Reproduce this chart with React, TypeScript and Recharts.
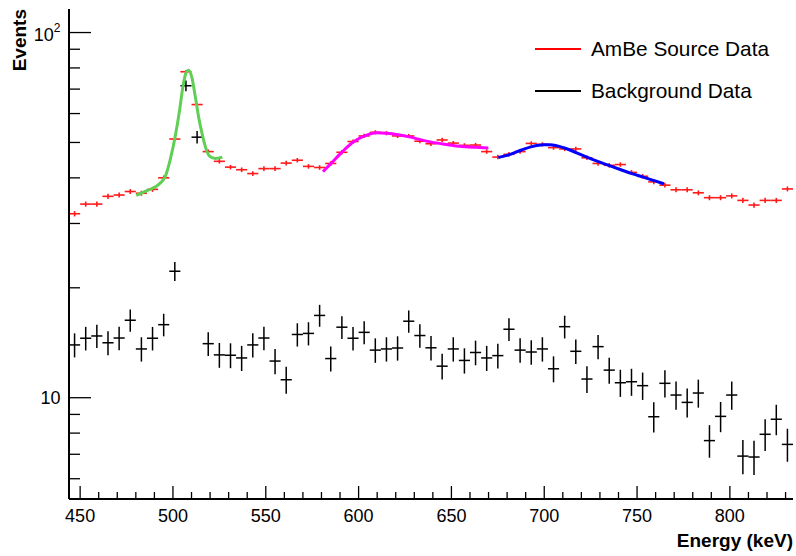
import React from 'react';
import { ComposedChart, Scatter, Line, XAxis, YAxis, ErrorBar } from 'recharts';

// Bin centres (keV), 6 keV wide bins from 444 to 834
const binCenters = [
  447, 453, 459, 465, 471, 477, 483, 489, 495, 501, 507, 513, 519, 525, 531, 537, 543, 549, 555, 561,
  567, 573, 579, 585, 591, 597, 603, 609, 615, 621, 627, 633, 639, 645, 651, 657, 663, 669, 675, 681,
  687, 693, 699, 705, 711, 717, 723, 729, 735, 741, 747, 753, 759, 765, 771, 777, 783, 789, 795, 801,
  807, 813, 819, 825, 831,
];

const ambeCounts = [
  31.9, 33.9, 33.9, 35.6, 35.9, 36.7, 36.3, 37.2, 40.0, 51.1, 78.1, 63.5, 47.2, 44.4, 42.8, 42.1, 41.1, 42.4, 42.4, 43.9,
  44.7, 43.0, 42.7, 43.8, 47.0, 50.3, 52.1, 53.3, 53.0, 52.1, 52.1, 50.4, 49.6, 50.8, 49.8, 49.1, 49.2, 47.2, 45.6, 46.4,
  47.2, 49.7, 49.4, 48.4, 48.0, 48.0, 45.4, 43.8, 43.3, 43.5, 41.4, 40.4, 39.0, 38.2, 37.1, 37.1, 36.4, 35.3, 35.3, 35.7,
  34.7, 33.7, 34.7, 34.7, 37.3,
];

const bkgCounts = [
  13.95, 14.55, 14.76, 14.14, 14.57, 16.3, 13.6, 14.55, 15.85, 22.2, 71.5, 51.7, 14.06, 13.1, 13.07, 12.85, 13.95, 14.57, 12.6, 11.2,
  14.9, 15.0, 16.8, 12.8, 15.6, 14.55, 15.1, 13.5, 13.6, 13.68, 16.2, 14.8, 13.7, 12.2, 13.6, 12.65, 13.3, 12.85, 13.04, 15.4,
  13.5, 13.34, 13.6, 12.0, 15.65, 13.4, 11.25, 13.8, 11.9, 10.99, 11.06, 10.79, 8.87, 10.95, 10.17, 9.71, 10.3, 7.63, 8.89, 10.17,
  6.92, 6.88, 7.94, 8.73, 7.45,
];

// Fit curves
const peakFitE = [480.2, 486.0, 493.2, 495.9, 498.5, 501.2, 503.6, 505.4, 507.2, 508.4, 510.2, 512.0, 513.8, 515.6, 517.4, 519.7, 522.8, 526.6];
const peakFitV = [35.8, 36.9, 38.7, 40.4, 44.8, 51.9, 61.4, 71.3, 77.9, 78.8, 75.2, 66.9, 58.8, 53.1, 48.8, 45.9, 45.2, 45.6];

const midFitE = [580.8, 585.3, 591.3, 597.3, 603.2, 609.3, 615.2, 621.2, 627.3, 633.2, 639.3, 645.4, 651.5, 657.4, 663.3, 669.9];
const midFitV = [41.6, 43.9, 47.2, 50.2, 52.1, 53.2, 53.0, 52.5, 51.8, 50.9, 50.1, 49.5, 49.0, 48.7, 48.5, 48.3];

const highFitE = [675.3, 681.3, 687.4, 693.3, 699.6, 703.2, 711.3, 717.2, 723.3, 729.2, 735.1, 741.3, 747.2, 753.4, 759.3, 764.5];
const highFitV = [45.5, 46.3, 47.6, 48.7, 49.3, 49.3, 48.2, 46.9, 45.5, 44.3, 43.2, 42.1, 41.1, 40.2, 39.3, 38.5];

const xTicks = [450, 460, 470, 480, 490, 500, 510, 520, 530, 540, 550, 560, 570, 580, 590, 600, 610, 620, 630, 640, 650, 660, 670, 680, 690, 700, 710, 720, 730, 740, 750, 760, 770, 780, 790, 800, 810, 820, 830];
const xMajorLabels = [450, 500, 550, 600, 650, 700, 750, 800];
const yTicks = [6, 7, 8, 9, 10, 20, 30, 40, 50, 60, 70, 80, 90, 100];
const yMajorValues = [10, 100];
const yMajorBase = ['10', '10'];
const yMajorExp = ['', '2'];

const seriesNames = ['AmBe Source Data', 'Background Data'];
const seriesColors = ['#ff0000', '#000000'];
const xTitle = 'Energy (keV)';
const yTitle = 'Events';

const BIN_HALF = 3;
const AMBE_ERR_K = 0.009;
const BKG_ERR_K = 0.08;
const X_DOMAIN: [number, number] = [444, 834];
const Y_DOMAIN: [number, number] = [5.28, 116];

const FONT = '"Liberation Sans", Arial, Helvetica, sans-serif';

const ambeData = binCenters.map((e, i) => ({ e, v: ambeCounts[i], ex: BIN_HALF, ey: Math.sqrt(AMBE_ERR_K * ambeCounts[i]) }));
const bkgData = binCenters.map((e, i) => ({ e, v: bkgCounts[i], ex: BIN_HALF, ey: Math.sqrt(BKG_ERR_K * bkgCounts[i]) }));
const toCurve = (es: number[], vs: number[]) => es.map((e, i) => ({ e, v: vs[i] }));
const peakFit = toCurve(peakFitE, peakFitV);
const midFit = toCurve(midFitE, midFitV);
const highFit = toCurve(highFitE, highFitV);

const XTick = (props: any) => {
  const { x, y, payload } = props;
  const v = payload.value;
  const major = xMajorLabels.includes(v);
  return (
    <g>
      <line x1={x} x2={x} y1={y} y2={y - (major ? 13 : 7)} stroke="#000" strokeWidth={1.3} />
      {major && (
        <text x={x} y={y + 23} textAnchor="middle" fontSize={18} fontFamily={FONT} fill="#000">
          {v}
        </text>
      )}
    </g>
  );
};

const YTick = (props: any) => {
  const { x, y, payload } = props;
  const v = payload.value;
  const idx = yMajorValues.indexOf(v);
  const major = idx >= 0;
  return (
    <g>
      <line x1={x} x2={x + (major ? 22 : 11)} y1={y} y2={y} stroke="#000" strokeWidth={1.3} />
      {major && (
        <text x={x - 8.5} y={y + (yMajorExp[idx] ? 8.5 : 6.5)} textAnchor="end" fontSize={18} fontFamily={FONT} fill="#000">
          {yMajorBase[idx]}
          {yMajorExp[idx] ? (
            <tspan fontSize={12} dy={-9}>
              {yMajorExp[idx]}
            </tspan>
          ) : null}
        </text>
      )}
    </g>
  );
};

const noShape = () => <g />;

export default function App() {
  const W = 796;
  const H = 556;
  return (
    <div style={{ position: 'fixed', left: 0, top: 0, width: W, height: H, background: '#fff' }}>
      <ComposedChart width={W} height={H} margin={{ top: 9, right: 3, bottom: 0, left: 0 }}>
        <XAxis
          type="number"
          dataKey="e"
          domain={X_DOMAIN}
          allowDataOverflow
          ticks={xTicks}
          interval={0}
          tick={<XTick />}
          tickLine={false}
          tickSize={0}
          tickMargin={0}
          height={57}
          axisLine={{ stroke: '#000', strokeWidth: 2 }}
          label={{
            content: () => (
              <text x={793} y={547} textAnchor="end" fontSize={19} fontWeight="bold" fontFamily={FONT} fill="#000">
                {xTitle}
              </text>
            ),
          }}
        />
        <XAxis
          xAxisId="top"
          orientation="top"
          type="number"
          dataKey="e"
          domain={X_DOMAIN}
          allowDataOverflow
          height={0}
          tick={false}
          tickLine={false}
          axisLine={{ stroke: '#000', strokeWidth: 2 }}
        />
        <YAxis
          type="number"
          dataKey="v"
          scale="log"
          domain={Y_DOMAIN}
          allowDataOverflow
          ticks={yTicks}
          interval={0}
          tick={<YTick />}
          tickLine={false}
          tickSize={0}
          tickMargin={0}
          width={69}
          axisLine={{ stroke: '#000', strokeWidth: 2 }}
          label={{
            content: () => (
              <text
                transform="translate(26, 9) rotate(-90)"
                x={0}
                y={0}
                textAnchor="end"
                fontSize={19}
                fontWeight="bold"
                fontFamily={FONT}
                fill="#000"
              >
                {yTitle}
              </text>
            ),
          }}
        />
        <YAxis
          yAxisId="right"
          orientation="right"
          type="number"
          scale="log"
          domain={Y_DOMAIN}
          allowDataOverflow
          width={0}
          tick={false}
          tickLine={false}
          axisLine={{ stroke: '#000', strokeWidth: 2 }}
        />
        <Scatter name={seriesNames[1]} data={bkgData} shape={noShape} isAnimationActive={false}>
          <ErrorBar dataKey="ex" direction="x" width={0} stroke="#000" strokeWidth={1.5} />
          <ErrorBar dataKey="ey" direction="y" width={0} stroke="#000" strokeWidth={1.5} />
        </Scatter>
        <Scatter name={seriesNames[0]} data={ambeData} shape={noShape} isAnimationActive={false}>
          <ErrorBar dataKey="ex" direction="x" width={0} stroke="#ff1a1a" strokeWidth={1.6} />
          <ErrorBar dataKey="ey" direction="y" width={0} stroke="#ff1a1a" strokeWidth={1.6} />
        </Scatter>
        <Line data={peakFit} dataKey="v" type="monotone" stroke="#5fcf55" strokeWidth={3} dot={false} isAnimationActive={false} />
        <Line data={midFit} dataKey="v" type="monotone" stroke="#ff00ff" strokeWidth={3} dot={false} isAnimationActive={false} />
        <Line data={highFit} dataKey="v" type="monotone" stroke="#0000ff" strokeWidth={3} dot={false} isAnimationActive={false} />
      </ComposedChart>
      {[0, 1].map((i) => (
        <div key={i}>
          <div
            style={{
              position: 'absolute',
              left: 535,
              top: (i === 0 ? 49 : 91) - 0.75,
              width: 46,
              height: 1.5,
              background: seriesColors[i],
            }}
          />
          <div
            style={{
              position: 'absolute',
              left: 591,
              top: (i === 0 ? 49 : 91) - 13,
              height: 26,
              lineHeight: '26px',
              fontSize: 20.8,
              fontFamily: FONT,
              color: '#000',
              whiteSpace: 'nowrap',
            }}
          >
            {seriesNames[i]}
          </div>
        </div>
      ))}
    </div>
  );
}
